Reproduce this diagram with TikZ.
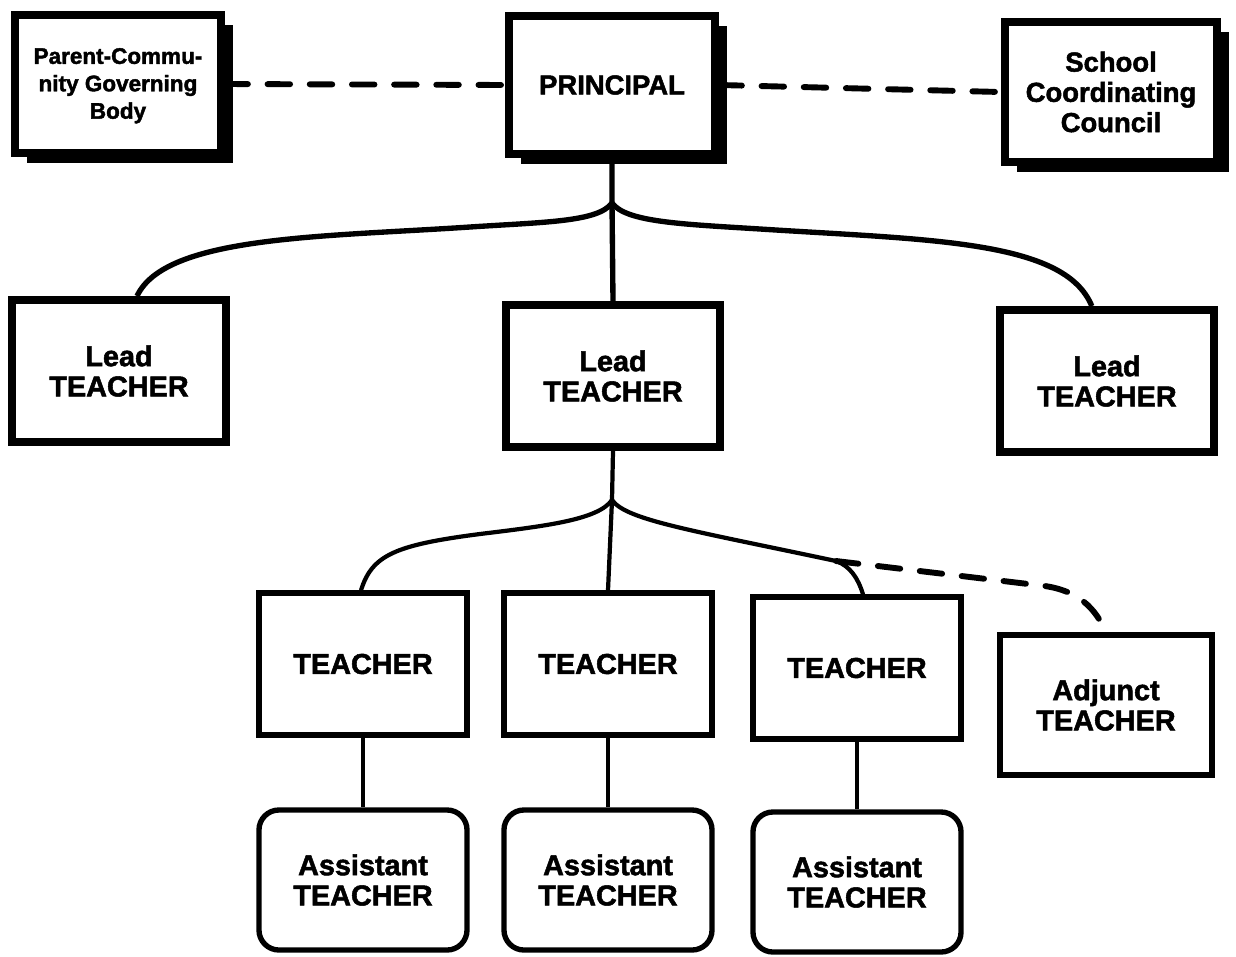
\documentclass[tikz,border=0pt]{standalone}
\usepackage{fontspec}
\setmainfont{Liberation Sans}[BoldFeatures={FakeBold=1.8}]
\usepackage{tikz}
\usetikzlibrary{shadows}

\begin{document}
\begin{tikzpicture}[x=0.025cm,y=-0.025cm,
  topbox/.style={draw, line width=6.2pt, fill=white, align=center,
    minimum width=5.15cm, minimum height=3.45cm,
    font=\bfseries\fontsize{19.5}{21.5}\selectfont,
    drop shadow={fill=black, opacity=1, shadow xshift=0.3cm, shadow yshift=-0.25cm}},
  leadbox/.style={draw, line width=5.5pt, align=center,
    minimum width=5.35cm, minimum height=3.55cm,
    font=\bfseries\fontsize{20.5}{21.5}\selectfont},
  teachbox/.style={draw, line width=3.8pt, align=center,
    minimum width=5.2cm, minimum height=3.55cm,
    font=\bfseries\fontsize{20.5}{21.5}\selectfont},
  assistbox/.style={teachbox, rounded corners=0.5cm, minimum width=5.2cm, minimum height=3.5cm},
  link/.style={line width=3.8pt},
  sublink/.style={line width=3pt},
  dashlink/.style={line width=4.2pt, line cap=round, dash pattern=on 16pt off 14pt}]
\useasboundingbox (0,0) rectangle (1236,956);

\node[topbox, font=\bfseries\fontsize{16}{19.5}\selectfont] (parent) at (118,84) {\strut Parent-Commu-\\nity Governing\\Body};
\node[topbox] (principal) at (612,85) {PRINCIPAL};
\node[topbox, minimum width=5.3cm, minimum height=3.5cm] (council) at (1111,92) {School\\Coordinating\\Council};

\node[leadbox] (lead1) at (119,371) {Lead\\TEACHER};
\node[leadbox] (lead2) at (613,376) {Lead\\TEACHER};
\node[leadbox] (lead3) at (1107,381) {Lead\\TEACHER};

\node[teachbox] (teach1) at (363,664) {TEACHER};
\node[teachbox] (teach2) at (608,664) {TEACHER};
\node[teachbox] (teach3) at (857,668) {TEACHER};
\node[teachbox, minimum width=5.3cm, minimum height=3.5cm] (adjunct) at (1106,705) {Adjunct\\TEACHER};

\node[assistbox] (assist1) at (363,880) {Assistant\\TEACHER};
\node[assistbox] (assist2) at (608,880) {Assistant\\TEACHER};
\node[assistbox] (assist3) at (857,882) {Assistant\\TEACHER};

\coordinate (b1) at (612,203);
\coordinate (b2) at (612,500);
\coordinate (j) at (836,561);

\draw[dashlink] (parent.east) -- (principal.west);
\draw[dashlink] (principal.east) -- (council.west);

\draw[link] (principal.south) -- (b1) -- (lead2.north);
\draw[link] (b1) .. controls (598,222) and (545,222) .. (470,227)
  .. controls (320,237) and (165,236) .. ([xshift=0.45cm]lead1.north);
\draw[link] (b1) .. controls (626,222) and (680,224) .. (760,229)
  .. controls (930,240) and (1065,240) .. ([xshift=-0.38cm]lead3.north);

\draw[sublink] (lead2.south) -- (b2) -- (teach2.north);
\draw[sublink] (b2) .. controls (598,520) and (545,526) .. (480,534)
  .. controls (395,545) and (372,555) .. ([xshift=-0.05cm]teach1.north);
\draw[sublink] (b2) .. controls (626,520) and (690,530) .. (j)
  .. controls (850,566) and (858,578) .. ([xshift=0.15cm]teach3.north);
\draw[dashlink] (j) -- (1045,586) .. controls (1085,592) and (1098,615) .. (adjunct.north);

\draw[sublink] (teach1.south) -- (assist1.north);
\draw[sublink] (teach2.south) -- (assist2.north);
\draw[sublink] (teach3.south) -- (assist3.north);
\end{tikzpicture}
\end{document}
